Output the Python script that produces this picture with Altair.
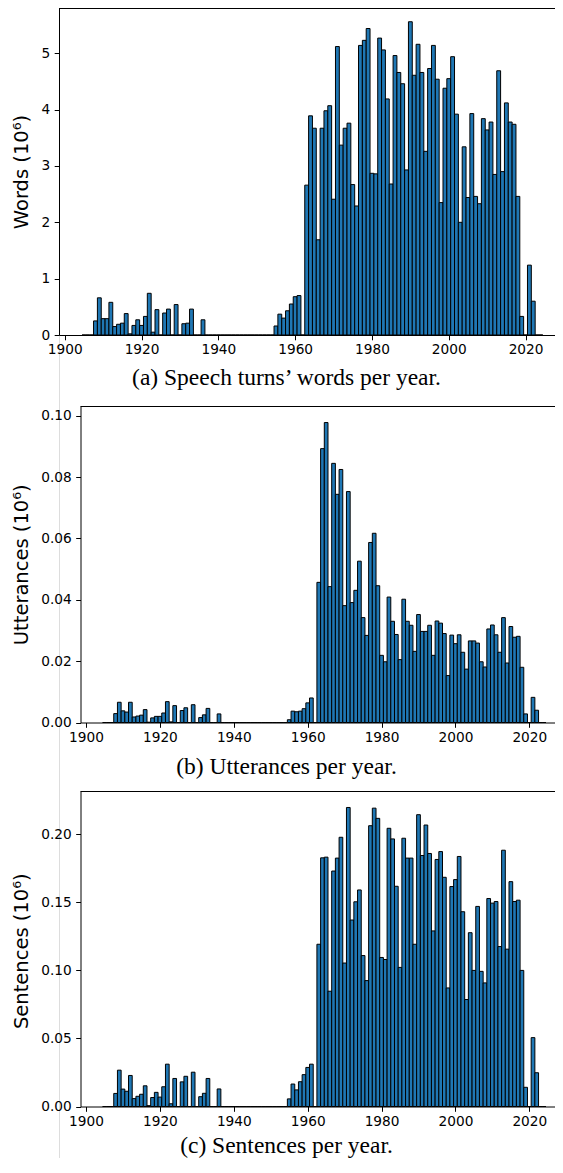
import altair as alt
import pandas as pd

# ---------------- data (values in millions, one bar per year) ----------------
years_early = list(range(1905, 1937))   # 32 years
years_gap = list(range(1937, 1955))     # 18 years with no data
years_late = list(range(1955, 2025))    # 70 years

words_early = [0, 0, 0,
               0.25, 0.66, 0.29, 0.29, 0.58, 0.15, 0.19, 0.21, 0.38, 0.02,
               0.17, 0.27, 0.17, 0.33, 0.74, 0.05, 0.45, 0, 0.39, 0.46,
               0, 0.54, 0, 0.20, 0.21, 0.46, 0, 0, 0.27]
words_late = [0.16, 0.37, 0.30, 0.43, 0.55, 0.68, 0.70, 0, 2.66, 3.89, 3.67, 1.69, 3.67, 3.98, 4.07,
              2.41, 5.12, 3.37, 3.67, 3.76, 2.67, 2.29, 5.14, 5.23, 5.44,
              2.87, 2.86, 5.27, 5.06, 4.19, 2.68, 4.96, 4.66, 4.46, 2.93,
              5.56, 4.61, 5.16, 4.66, 3.26, 4.73, 5.14, 4.54, 2.35, 4.38,
              4.55, 4.94, 3.92, 2.00, 3.34, 2.44, 3.93, 2.46, 2.33, 3.84,
              3.64, 3.78, 2.85, 4.69, 2.90, 4.12, 3.78, 3.74, 2.46, 0.33,
              0, 1.24, 0.60, 0, 0]

utt_early = [0, 0, 0,
             0.0029, 0.0066, 0.0038, 0.0034, 0.0066, 0.0018, 0.0021, 0.0024, 0.0042, 0.0001,
             0.0015, 0.0020, 0.0020, 0.0031, 0.0068, 0.0002, 0.0055, 0, 0.0039, 0.0048,
             0, 0.0058, 0, 0.0016, 0.0025, 0.0046, 0, 0, 0.0028]
utt_late = [0.0009, 0.0037, 0.0035, 0.0037, 0.0045, 0.0064, 0.0080, 0, 0.0457, 0.0893, 0.0978, 0.0443, 0.0845, 0.0744, 0.0825,
            0.0381, 0.0753, 0.0391, 0.0431, 0.0526, 0.0342, 0.0284, 0.0587, 0.0617, 0.0446,
            0.0219, 0.0198, 0.0409, 0.0330, 0.0287, 0.0205, 0.0402, 0.0330, 0.0317, 0.0232,
            0.0352, 0.0297, 0.0297, 0.0317, 0.0219, 0.0331, 0.0324, 0.0290, 0.0153, 0.0285,
            0.0257, 0.0286, 0.0229, 0.0174, 0.0266, 0.0266, 0.0259, 0.0198, 0.0181, 0.0305,
            0.0318, 0.0286, 0.0229, 0.0342, 0.0194, 0.0313, 0.0278, 0.0281, 0.0180, 0.0028,
            0, 0.0082, 0.0040, 0, 0]

sent_early = [0, 0, 0,
              0.0096, 0.0267, 0.0128, 0.0112, 0.0228, 0.0058, 0.0075, 0.0090, 0.0152, 0.0006,
              0.0066, 0.0104, 0.0069, 0.0145, 0.0311, 0.0020, 0.0206, 0, 0.0181, 0.0222,
              0, 0.0252, 0, 0.0072, 0.0097, 0.0206, 0, 0, 0.0129]
sent_late = [0.0056, 0.0165, 0.0122, 0.0182, 0.0234, 0.0287, 0.0311, 0, 0.1192, 0.1827, 0.1832, 0.0847, 0.1730, 0.1825, 0.1978,
             0.1054, 0.2197, 0.1370, 0.1504, 0.1591, 0.1109, 0.0925, 0.2063, 0.2192, 0.2117,
             0.1095, 0.1080, 0.2044, 0.1966, 0.1618, 0.1022, 0.1971, 0.1825, 0.1825, 0.1192,
             0.2144, 0.1844, 0.2068, 0.1859, 0.1290, 0.1815, 0.1873, 0.1684, 0.0871, 0.1616,
             0.1667, 0.1837, 0.1431, 0.0786, 0.1277, 0.1000, 0.1470, 0.0993, 0.0908, 0.1528,
             0.1494, 0.1506, 0.1175, 0.1883, 0.1156, 0.1652, 0.1506, 0.1516, 0.1000, 0.0141,
             0, 0.0506, 0.0248, 0, 0]

gap_values = [0] * len(years_gap)

x_ticks = [1900, 1920, 1940, 1960, 1980, 2000, 2020]
words_ticks = [0, 1, 2, 3, 4, 5]
utt_ticks = [0.0, 0.02, 0.04, 0.06, 0.08, 0.10]
sent_ticks = [0.0, 0.05, 0.10, 0.15, 0.20]

captions = ["(a) Speech turns\u2019 words per year.",
            "(b) Utterances per year.",
            "(c) Sentences per year."]
y_titles = ["Words (10\u2076)", "Utterances (10\u2076)", "Sentences (10\u2076)"]

YEARS = years_early + years_gap + years_late
assert len(words_early) == 32 and len(utt_early) == 32 and len(sent_early) == 32
assert len(words_late) == 70 and len(utt_late) == 70 and len(sent_late) == 70

# ---------------- layout (pixels inside the single view) ----------------
W = 496           # view width (page is 563 wide incl. 8px margins each side)
H = 1150          # view height
PAD_LEFT = 51
BLUE = "#1f77b4"
INK = "#000000"
LABEL_FONT = "DejaVu Sans"
CAP_FONT = "Liberation Serif"


def panel(values, x_left, px_per_year, top, bottom, ymax, yticks, yfmt, ytitle, caption,
          cap_y, title_y):
    df = pd.DataFrame({
        "start": [y - 0.5 for y in YEARS],
        "end": [y + 0.5 for y in YEARS],
        "v": values,
        "base": [0.0] * len(YEARS),
    })
    x_right_dom = 1898.5 + (W - x_left) / px_per_year
    xscale = alt.Scale(domain=[1898.5, x_right_dom], range=[x_left, W], nice=False, zero=False)
    yscale = alt.Scale(domain=[0, ymax], range=[bottom, top], nice=False, zero=True)
    bars = alt.Chart(df).mark_bar(fill=BLUE, stroke="black", strokeWidth=1).encode(
        x=alt.X("start:Q", scale=xscale, axis=alt.Axis(
            orient="bottom", offset=bottom - H,
            values=x_ticks, format="d", grid=False,
            labelFont=LABEL_FONT, labelFontSize=13.7, labelColor=INK,
            labelPadding=3, labelFlush=False, labelOverlap=False,
            tickColor=INK, tickSize=4.8, tickWidth=1,
            domainColor=INK, domainWidth=1,
            title=caption, titleFont=CAP_FONT, titleFontSize=23.5,
            titleFontWeight="normal", titleColor=INK,
            titleX=286 - 59, titleY=cap_y, titleAlign="center", titleBaseline="alphabetic")),
        x2="end:Q",
        y=alt.Y("v:Q", scale=yscale, axis=alt.Axis(
            orient="left", offset=-x_left,
            values=yticks, format=yfmt, grid=False,
            labelFont=LABEL_FONT, labelFontSize=13.7, labelColor=INK,
            labelPadding=4.5, tickColor=INK, tickSize=4.8, tickWidth=1,
            domainColor=INK, domainWidth=1,
            title=ytitle, titleFont=LABEL_FONT, titleFontSize=19.5,
            titleFontWeight="normal", titleColor=INK, titleAngle=270,
            titleX=-32 - x_left, titleY=title_y,
            titleAlign="center", titleBaseline="alphabetic")),
        y2="base:Q",
    )
    one = pd.DataFrame({"k": [0]})
    top_rule = alt.Chart(one).mark_rule(color=INK, strokeWidth=1).encode(
        x=alt.value(x_left), x2=alt.value(W), y=alt.value(top + 0.5))
    return [bars, top_rule]


# panel geometry (view coordinates = page coordinates - 8)
p1 = panel(words_early + gap_values + words_late, 0, 3.84, 0, 327, 327 / 56.34,
           words_ticks, "d", y_titles[0], captions[0], 49, 163.5)
p2 = panel(utt_early + gap_values + utt_late, 21.5, 3.694, 398, 714.5, 0.1032,
           utt_ticks, ".2f", y_titles[1], captions[1], 50.5, 556.25)
p3 = panel(sent_early + gap_values + sent_late, 21.5, 3.694, 783, 1098.5, 0.2318,
           sent_ticks, ".2f", y_titles[2], captions[2], 46, 942.75)

chart = alt.layer(*(p1 + p2 + p3)).resolve_scale(
    x="independent", y="independent"
).resolve_axis(
    x="independent", y="independent"
).properties(
    width=W, height=H,
    autosize=alt.AutoSizeParams(type="none"),
    padding={"left": PAD_LEFT, "top": 0, "right": 0, "bottom": 0},
).configure_view(stroke=None).configure(background="white")

chart.save("out.html", embed_options={"renderer": "svg", "actions": False})
